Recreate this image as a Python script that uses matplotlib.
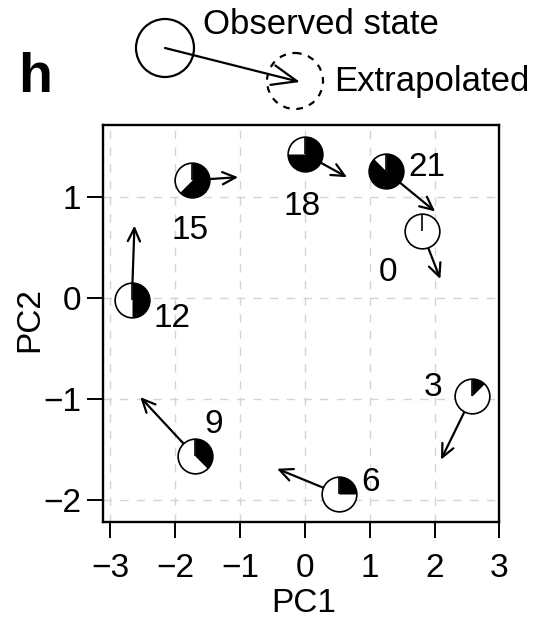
"""
Cell-cycle samples on PC1/PC2 with extrapolated future states.
"""
import numpy as np
import matplotlib
matplotlib.use("Agg")
import matplotlib.pyplot as plt
from matplotlib.path import Path
from matplotlib.patches import Circle, FancyArrowPatch

plt.rcParams["font.family"] = ["Liberation Sans", "DejaVu Sans"]

# sampling hour, observed position, extrapolated position, label position
hours = [0, 3, 6, 9, 12, 15, 18, 21]
obs_x = [1.80, 2.58, 0.52, -1.70, -2.67, -1.74, 0.00, 1.25]
obs_y = [0.67, -0.97, -1.94, -1.56, -0.02, 1.17, 1.43, 1.26]
ext_x = [2.09, 2.10, -0.43, -2.54, -2.63, -1.03, 0.65, 2.01]
ext_y = [0.19, -1.60, -1.69, -0.98, 0.72, 1.20, 1.20, 0.86]
lab_x = [1.29, 1.97, 1.02, -1.41, -2.05, -1.77, -0.05, 1.88]
lab_y = [0.26, -0.88, -1.83, -1.25, -0.20, 0.67, 0.91, 1.30]
period = 24

xticks = [-3, -2, -1, 0, 1, 2, 3]
yticks = [-2, -1, 0, 1]

FS = 24
MS = 25


def clock_marker(frac):
    # filled wedge running clockwise from 12 o'clock
    t = np.radians(np.linspace(90, 90 - 360 * frac, 200))
    verts = np.vstack([[0, 0], np.column_stack([np.cos(t), np.sin(t)]), [0, 0]])
    return Path(verts, closed=True)


fig = plt.figure(figsize=(5.38, 6.18), dpi=100)
ax = fig.add_axes([0.1909, 0.1558, 0.7372, 0.6419])

ax.set_xlim(-3.12, 3.0)
ax.set_ylim(-2.215, 1.717)
ax.set_xticks(xticks)
ax.set_yticks(yticks)
ax.set_xticklabels([f"{v:d}".replace("-", "\u2212") for v in xticks])
ax.set_yticklabels([f"{v:d}".replace("-", "\u2212") for v in yticks])
ax.tick_params(axis="both", length=11.5, width=1.4, labelsize=FS, color="black")
ax.tick_params(axis="x", pad=11)
ax.tick_params(axis="y", pad=4)
for s in ax.spines.values():
    s.set_linewidth(1.7)
ax.grid(color="#d4d4d4", linestyle=(0, (6, 6)), linewidth=1.0)
ax.set_axisbelow(True)

ax.set_xlabel("PC1", fontsize=FS, va="center")
ax.xaxis.set_label_coords(0.506, -0.205)
ax.set_ylabel("PC2", fontsize=FS, va="center")
ax.yaxis.set_label_coords(-0.183, 0.51)

for h, ox, oy, ex, ey, lx, ly in zip(hours, obs_x, obs_y, ext_x, ext_y, lab_x, lab_y):
    ax.annotate("", xy=(ex, ey), xytext=(ox, oy), zorder=2,
                arrowprops=dict(arrowstyle="->,head_length=0.47,head_width=0.22",
                                lw=1.6, color="black", shrinkA=0, shrinkB=0,
                                mutation_scale=20))
    ax.plot(ox, oy, marker="o", ms=MS, mfc="white", mec="none", ls="none", zorder=3)
    frac = h / period
    if frac > 0:
        ax.plot(ox, oy, marker=clock_marker(frac), ms=MS, mfc="black",
                mec="none", ls="none", zorder=4)
    ax.plot(ox, oy, marker=Path([[0, 0], [0, 1]]), ms=MS, mec="black",
            mew=1.2, fillstyle="none", ls="none", zorder=5)
    ax.plot(ox, oy, marker="o", ms=MS, mfc="none", mec="black", mew=1.2,
            ls="none", zorder=6)
    ax.text(lx, ly, str(h), fontsize=FS, ha="center", va="center", zorder=7)

# key above the panel, laid out in pixel units
key = fig.add_axes([0, 0, 1, 1])
key.set_xlim(0, 538)
key.set_ylim(618, 0)
key.axis("off")
key.add_patch(Circle((165, 48), 29, fill=False, lw=1.6, ec="black"))
key.add_patch(Circle((295, 81), 28, fill=False, lw=1.6, ec="black",
                     linestyle=(0, (3, 3))))
key.add_patch(FancyArrowPatch((165, 48), (300, 82),
                              arrowstyle="->,head_length=0.9,head_width=0.36",
                              mutation_scale=20, lw=1.6, color="black",
                              shrinkA=0, shrinkB=0))
key.text(203, 25, "Observed state", fontsize=25, ha="left", va="center")
key.text(334, 81, "Extrapolated", fontsize=25, ha="left", va="center")
key.text(18, 92, "h", fontsize=40, fontweight="bold", ha="left", va="baseline")

fig.savefig("out.png", dpi=100)
